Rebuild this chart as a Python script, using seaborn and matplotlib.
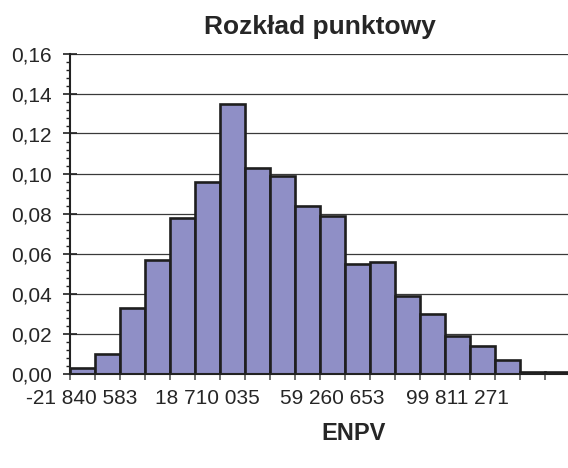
import matplotlib
matplotlib.use("Agg")
import matplotlib.pyplot as plt
import seaborn as sns
from matplotlib.ticker import MultipleLocator, FuncFormatter

# bins of the histogram (categories) and their relative frequencies
bins = [1, 2, 3, 4, 5, 6, 7, 8, 9, 10, 11, 12, 13, 14, 15, 16, 17, 18, 19, 20]
freq = [0.003, 0.010, 0.033, 0.057, 0.078, 0.096, 0.135, 0.103, 0.099, 0.084,
        0.079, 0.055, 0.056, 0.039, 0.030, 0.019, 0.014, 0.007, 0.0008, 0.0008]

# only every 5th bin is labelled on the x axis
label_bins = [1, 6, 11, 16]
label_texts = ["-21 840 583", "18 710 035", "59 260 653", "99 811 271"]

sns.set_style("white")
plt.rcParams["font.family"] = ["Liberation Sans", "DejaVu Sans"]

fig = plt.figure(figsize=(5.68, 4.68), dpi=100)
ax = fig.add_axes([69.5 / 568, 94.5 / 468, 500 / 568, 320 / 468])

sns.barplot(x=bins, y=freq, order=bins, color="#8F8FC6", saturation=1,
            width=1.0, edgecolor="#1e1e1e", linewidth=1.9, ax=ax)

ax.set_xlim(-0.5, len(bins) - 0.5)
ax.set_ylim(0, 0.16)

# y axis: major every 0.02, minor every 0.004
ax.yaxis.set_major_locator(MultipleLocator(0.02))
ax.yaxis.set_minor_locator(MultipleLocator(0.004))
ax.yaxis.set_major_formatter(FuncFormatter(lambda v, p: f"{v:.2f}".replace(".", ",")))
ax.tick_params(axis="y", which="major", direction="inout", length=9.5, width=1.2,
               color="#222222", labelsize=15, pad=8, left=True)
ax.tick_params(axis="y", which="minor", direction="out", length=3.2, width=1.0,
               color="#222222", left=True)

# x axis: tick marks at bin edges, labels at centres of selected bins
edges = [i - 0.5 for i in range(len(bins) + 1)]
ax.set_xticks(edges)
ax.set_xticklabels([""] * len(edges))
ax.tick_params(axis="x", which="major", direction="out", length=4, width=1.2,
               color="#555555", bottom=True)
centres = [bins.index(b) for b in label_bins]
ax.set_xticks(centres, minor=True)
ax.set_xticklabels(label_texts, minor=True)
ax.tick_params(axis="x", which="minor", length=0, labelsize=15, pad=11)

ax.yaxis.grid(True, which="major", color="#3a3a3a", linewidth=0.9)
ax.set_axisbelow(True)

for side in ["top", "right"]:
    ax.spines[side].set_visible(False)
for side in ["left", "bottom"]:
    ax.spines[side].set_color("#222222")
    ax.spines[side].set_linewidth(1.5)

ax.set_xlabel("")
ax.set_ylabel("")
ax.set_title("Rozkład punktowy", fontsize=19, fontweight="bold", pad=14)
fig.text(354 / 568, 1 - 433 / 468, "ENPV", fontsize=17, fontweight="bold",
         ha="center", va="center")

fig.savefig("out.png", dpi=100)
